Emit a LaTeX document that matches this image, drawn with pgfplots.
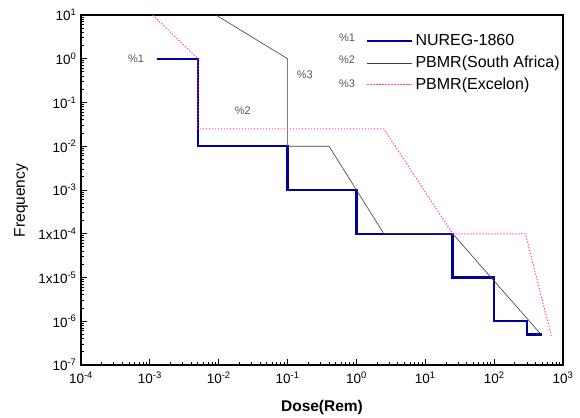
\documentclass[border=0pt]{standalone}
\usepackage{fontspec}
\setmainfont{Liberation Sans}
\usepackage{pgfplots}
\pgfplotsset{compat=1.18}
\usetikzlibrary{calc}
\definecolor{nureg}{RGB}{0,0,155}
\definecolor{pbmrsa}{RGB}{60,60,60}
\definecolor{pbmrex}{RGB}{255,60,190}
\definecolor{pctgray}{RGB}{85,85,85}

\begin{document}
\begin{tikzpicture}
\begin{loglogaxis}[
  scale only axis,
  width=482pt, height=350pt,
  xmin=1e-4, xmax=1e3,
  ymin=1e-7, ymax=1e1,
  xtick={1e-4,1e-3,1e-2,1e-1,1e0,1e1,1e2,1e3},
  xticklabels={10\textsuperscript{-4},10\textsuperscript{-3},10\textsuperscript{-2},10\textsuperscript{-1},10\textsuperscript{0},10\textsuperscript{1},10\textsuperscript{2},10\textsuperscript{3}},
  ytick={1e-7,1e-6,1e-5,1e-4,1e-3,1e-2,1e-1,1e0,1e1},
  yticklabels={10\textsuperscript{-7},10\textsuperscript{-6},1x10\textsuperscript{-5},1x10\textsuperscript{-4},10\textsuperscript{-3},10\textsuperscript{-2},10\textsuperscript{-1},10\textsuperscript{0},10\textsuperscript{1}},
  tick label style={font=\fontsize{13.5}{15}\selectfont},
  xticklabel style={yshift=-3pt},
  yticklabel style={xshift=-1pt},
  xtick pos=bottom, ytick pos=left,
  tick align=inside,
  major tick length=6pt, minor tick length=3.5pt,
  every tick/.style={black, line width=1pt},
  axis line style={line width=1.3pt},
  xlabel={\bfseries Dose(Rem)},
  ylabel={Frequency},
  label style={font=\fontsize{15.5}{18}\selectfont},
  xlabel style={at={(axis description cs:0.5,-0.12)}, anchor=center},
  ylabel style={at={(axis description cs:-0.124,0.47)}, anchor=center},
  legend style={draw=none, fill=none, at={(axis description cs:0.585,0.956)}, anchor=north west,
    font=\fontsize{16}{19}\selectfont, row sep=5pt, legend cell align=left},
  legend image code/.code={\draw[#1] (0pt,0pt) -- (41pt,0pt); \path (41pt,0pt) -- (45pt,0pt);},
]
% NUREG-1860
\addplot[nureg, line width=2.4pt, line join=miter] coordinates {
  (0.00125,1) (0.005,1) (0.005,0.01) (0.1,0.01) (0.1,0.001) (1,0.001) (1,1e-4)
  (25,1e-4) (25,1e-5) (100,1e-5) (100,1e-6) (300,1e-6) (300,5e-7) (500,5e-7)
};
\addlegendentry{NUREG-1860}
% PBMR (South Africa)
\addplot[pbmrsa, line width=0.6pt] coordinates {
  (0.0091,10) (0.1,1) (0.1,0.01) (0.4,0.01) (2.5,1e-4) (25,1e-4) (480,5e-7)
};
\addlegendentry{PBMR(South Africa)}
% PBMR (Excelon)
\addplot[pbmrex, line width=1pt, dash pattern=on 1.3pt off 1.7pt] coordinates {
  (0.0011,10) (0.005,1) (0.005,0.025) (2.5,0.025) (25,1e-4) (285,1e-4) (680,4.5e-7)
};
\addlegendentry{PBMR(Excelon)}
\node[pctgray, font=\fontsize{11}{13}\selectfont] at (axis cs:6.3e-4,1) {\%1};
\node[pctgray, font=\fontsize{11}{13}\selectfont] at (axis cs:0.0224,0.065) {\%2};
\node[pctgray, font=\fontsize{11}{13}\selectfont] at (axis cs:0.178,0.43) {\%3};
\node[pctgray, font=\fontsize{11}{13}\selectfont] at (axis description cs:0.552,0.934) {\%1};
\node[pctgray, font=\fontsize{11}{13}\selectfont] at (axis description cs:0.552,0.871) {\%2};
\node[pctgray, font=\fontsize{11}{13}\selectfont] at (axis description cs:0.552,0.803) {\%3};
\end{loglogaxis}
\path[use as bounding box] ($(current axis.south west)+(-81pt,-51pt)$) rectangle ($(current axis.north east)+(17pt,15pt)$);
\end{tikzpicture}
\end{document}
